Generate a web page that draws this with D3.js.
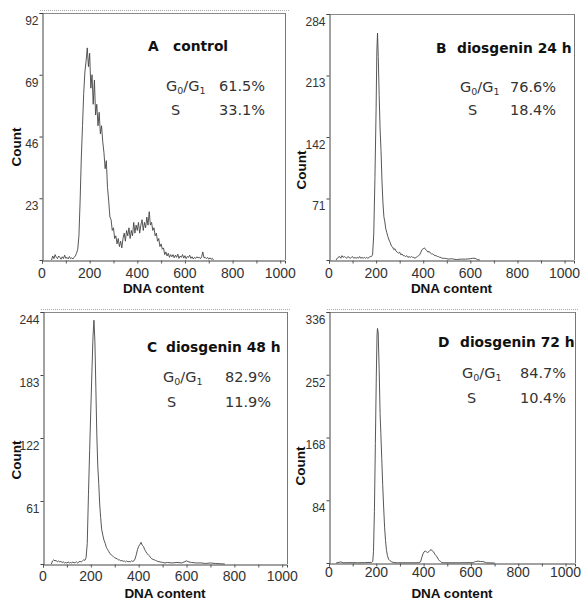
<!DOCTYPE html>
<html>
<head>
<meta charset="utf-8">
<script src="https://cdn.jsdelivr.net/npm/d3@7"></script>
<style>
  body { margin: 0; background: #fff; }
  .ylab text { font-family: "Liberation Sans", Arial, sans-serif; font-size: 12px; fill: #333; }
  .xnum { font-family: "Liberation Sans", Arial, sans-serif; font-size: 14px; fill: #333; }
  .axtitle { font-family: "Liberation Sans", Arial, sans-serif; font-size: 13.5px; font-weight: bold; fill: #111; }
  .ptitle { font-family: "DejaVu Sans", Verdana, sans-serif; font-size: 13.8px; font-weight: bold; fill: #111; }
  .stat { font-family: "DejaVu Sans", Verdana, sans-serif; font-size: 14.5px; fill: #333; }
</style>
</head>
<body>
<script>
var W = 582, H = 600;

// titles and cell cycle fractions
var letters = ["A", "B", "C", "D"];
var titles = ["control", "diosgenin 24 h", "diosgenin 48 h", "diosgenin 72 h"];
var g0g1 = ["61.5%", "76.6%", "82.9%", "84.7%"];
var sPhase = ["33.1%", "18.4%", "11.9%", "10.4%"];

// axis ticks
var xTicks = [0, 200, 400, 600, 800, 1000];
var yTicksA = [23, 46, 69, 92];
var yTicksB = [71, 142, 213, 284];
var yTicksC = [61, 122, 183, 244];
var yTicksD = [84, 168, 252, 336];

// A control: channels every 5 from 40
var chanA = d3.range(40, 765, 5);
var countA = [0, 1.5, 0.5, 2, 1, 0.5, 1.5, 1, 0.3, 1.2, 0.5, 1.8, 0.6, 1, 0.4, 1.3, 0.5, 0.8, 0.4, 1,
  1.5, 2.5, 4, 9, 22, 38, 50, 62, 70, 74, 79, 72, 77, 64, 69, 58, 67, 54, 58, 50,
  55, 47, 50, 44, 40, 34, 37, 27, 22, 16, 15, 11, 12, 8, 9, 6, 8, 5, 7, 4.5,
  8, 10, 7, 11, 9, 12, 8, 11, 9, 14, 10, 13, 11, 14, 10, 13, 15, 11, 14, 12,
  16, 13, 18, 13, 14, 11, 12, 9, 10, 7, 8, 5, 6, 4, 4.5, 2, 3, 1.5, 2.5, 1,
  2, 1.2, 2, 0.8, 1.8, 1, 2.2, 0.6, 1.5, 1, 2, 0.7, 1.6, 0.5, 1.3, 1, 1.8, 0.6, 1.2, 0.4,
  1, 0.6, 1.2, 0.8, 1, 0.5, 1.2, 3, 0.8, 1, 0.5, 1, 0.3, 0.8, 0.3, 0.6, 0];

// B diosgenin 24 h
var chanB = [30, 38, 45, 50, 55, 60, 65, 70, 75, 80, 85, 90, 95, 100, 105, 110, 115, 120, 125, 130,
  135, 140, 145, 150, 155, 160, 165, 170, 175, 180, 185, 190, 195, 200, 203, 206, 209, 213, 217, 221,
  225, 229, 233, 237, 241, 245, 250, 255, 260, 265, 270, 275, 280, 285, 290, 295, 300, 305, 310, 315,
  320, 325, 330, 335, 340, 345, 350, 355, 360, 365, 370, 375, 380, 385, 390, 395, 400, 405, 410, 415,
  420, 425, 430, 435, 440, 445, 450, 455, 460, 465, 470, 475, 480, 490, 500, 510, 520, 530, 540, 560,
  580, 600, 610, 620, 630, 640];
var countB = [0, 3, 4, 2, 5, 3, 4, 3, 2, 4, 3, 2, 3, 4, 2, 3, 2, 3, 2, 4,
  2, 3, 2, 3, 2, 3, 2, 3, 4, 4, 6, 30, 95, 175, 240, 262, 235, 190, 150, 125,
  90, 66, 50, 44, 36, 32, 27, 23, 20, 16, 15, 12, 13, 10, 9, 8, 9, 6, 7, 5,
  5, 4, 5, 3, 4, 3, 4, 3, 3, 2, 3, 4, 5, 6, 9, 12, 13, 14, 12, 11,
  9, 10, 8, 7, 7, 6, 5, 5, 4, 4, 3, 3, 2, 2, 1.5, 1, 1.5, 1, 0.5, 1,
  1, 1.5, 2, 2, 0.5, 0];

// C diosgenin 48 h
var chanC = [35, 40, 45, 50, 55, 60, 65, 70, 75, 80, 85, 90, 95, 100, 105, 110, 115, 120, 125, 130,
  135, 140, 145, 150, 155, 160, 165, 170, 175, 180, 185, 190, 195, 200, 205, 209, 213, 217, 221, 225,
  229, 233, 237, 241, 245, 250, 255, 260, 265, 270, 275, 280, 285, 290, 295, 300, 305, 310, 315, 320,
  325, 330, 335, 340, 345, 350, 355, 360, 365, 370, 375, 380, 385, 390, 395, 400, 405, 410, 415, 420,
  425, 430, 435, 440, 445, 450, 455, 460, 465, 470, 475, 480, 490, 500, 510, 520, 540, 560, 580, 600,
  610, 620, 640, 660, 680, 700, 720, 760];
var countC = [0, 3, 4, 3, 3.5, 2, 3, 2, 2.5, 1.5, 2, 1, 1.5, 1, 2, 1, 1.5, 1, 2, 1,
  1.5, 2, 1, 2, 2.5, 2, 3, 4, 3.5, 6, 20, 67, 110, 150, 190, 220, 236, 215, 170, 125,
  95, 78, 58, 45, 34, 28, 23, 20, 16, 14, 12, 10, 9, 8, 7, 6, 5.5, 5, 4, 4,
  3, 3.5, 2.5, 3, 2, 3, 2, 2.5, 2, 3, 2.5, 3, 5, 9, 14, 17, 19, 21, 18, 17,
  14, 12, 10, 9, 8, 6, 5, 4.5, 4, 3.5, 3, 2.5, 2, 1.5, 1, 1.5, 1, 1.5, 1, 3,
  2, 1.5, 1, 1, 0.5, 1, 0.5, 0];

// D diosgenin 72 h
var chanD = [30, 50, 60, 100, 120, 150, 180, 185, 188, 192, 196, 200, 203, 205, 208, 212, 216, 219, 223, 227,
  231, 235, 239, 243, 247, 252, 258, 265, 275, 290, 330, 360, 380, 387, 392, 397, 402, 407, 412, 417,
  422, 427, 432, 437, 442, 447, 452, 457, 462, 467, 472, 477, 490, 550, 610, 615, 620, 630, 640, 650,
  660, 665, 700];
var countD = [0, 1.5, 0.3, 0.5, 0.3, 0.5, 0.8, 2, 15, 69, 160, 250, 305, 314, 308, 260, 200, 175, 140, 105,
  75, 48, 30, 17, 10, 5, 3, 1.5, 0.5, 0.3, 0.3, 0.3, 0.5, 1.5, 7, 12, 15, 16, 15, 14,
  15, 17, 18, 16, 15, 12, 10, 8, 5, 3, 2, 0.5, 0.3, 0.3, 0.5, 1.5, 2, 2.5, 2, 2,
  1, 0.3, 0];

// layout of each panel (pixels)
var panels = [
  { left: 42, top: 13, right: 285, bottom: 260, xEnd: 1020, yMax: 92, yTicks: yTicksA, chan: chanA, count: countA,
    dotted: true, xLabY: 278, xTitY: 293, countX: 16, countY: 147,
    titleX: 148, wordX: 173, titleY: 51, gX: 166, valX: 219, sX: 171, gY: 91, sY: 115 },
  { left: 329, top: 14, right: 574, bottom: 260, xEnd: 1040, yMax: 284, yTicks: yTicksB, chan: chanB, count: countB,
    dotted: false, xLabY: 278, xTitY: 293, countX: 301, countY: 170,
    titleX: 436, wordX: 457, titleY: 53, gX: 460, valX: 510, sX: 468, gY: 92, sY: 115 },
  { left: 43, top: 312, right: 287, bottom: 564, xEnd: 1020, yMax: 244, yTicks: yTicksC, chan: chanC, count: countC,
    dotted: true, xLabY: 581, xTitY: 598, countX: 16, countY: 460,
    titleX: 147, wordX: 166, titleY: 352, gX: 163, valX: 225, sX: 167, gY: 382, sY: 407 },
  { left: 329, top: 312, right: 575, bottom: 563, xEnd: 1040, yMax: 336, yTicks: yTicksD, chan: chanD, count: countD,
    dotted: true, xLabY: 577, xTitY: 598, countX: 300, countY: 466,
    titleX: 438, wordX: 460, titleY: 347, gX: 462, valX: 520, sX: 467, gY: 378, sY: 403 }
];

var svg = d3.select("body").append("svg")
    .attr("width", W)
    .attr("height", H);

panels.forEach(function(p, i) {
    var x = d3.scaleLinear().domain([0, p.xEnd]).range([p.left, p.right]);
    var y = d3.scaleLinear().domain([0, p.yMax]).range([p.bottom, p.top]);
    var g = svg.append("g");

    // frame
    if (p.dotted) {
        g.append("line")
            .attr("x1", p.left - 2).attr("x2", p.right + 4)
            .attr("y1", p.top - 2.5).attr("y2", p.top - 2.5)
            .style("stroke", "#aaa").style("stroke-dasharray", "1,1");
    }
    g.append("line")
        .attr("x1", p.left).attr("x2", p.right)
        .attr("y1", p.top + 0.5).attr("y2", p.top + 0.5)
        .style("stroke", "#888");
    g.append("line")
        .attr("x1", p.right + 0.5).attr("x2", p.right + 0.5)
        .attr("y1", p.top).attr("y2", p.bottom)
        .style("stroke", "#777");

    // histogram
    var pts = p.chan.map(function(c, k) { return [c, p.count[k]]; });
    var line = d3.line()
        .x(function(d) { return x(d[0]); })
        .y(function(d) { return y(d[1]); });
    g.append("path")
        .datum(pts)
        .attr("d", line)
        .style("fill", "none")
        .style("stroke", "#444")
        .style("stroke-width", 0.9);

    // y axis
    var ya = g.append("g")
        .attr("class", "ylab")
        .attr("transform", "translate(" + (p.left + 0.5) + ",0)")
        .call(d3.axisLeft(y).tickValues(p.yTicks).tickSize(3).tickPadding(1));
    ya.select(".domain").style("stroke", "#444");
    ya.selectAll(".tick line").style("stroke", "#444");
    ya.selectAll(".tick text").attr("dy", "0.95em");

    // x axis, small ticks every 100
    var xa = g.append("g")
        .attr("transform", "translate(0," + (p.bottom + 0.5) + ")")
        .call(d3.axisBottom(x).tickValues(d3.range(0, 1001, 100)).tickSize(3).tickFormat(""));
    xa.select(".domain").style("stroke", "#444");
    xa.selectAll(".tick line").style("stroke", "#555");
    g.selectAll(".xnum")
        .data(xTicks)
        .enter().append("text")
        .attr("class", "xnum")
        .attr("x", function(d) { return x(d); })
        .attr("y", p.xLabY)
        .attr("text-anchor", "middle")
        .text(function(d) { return d; });

    // axis titles
    g.append("text")
        .attr("class", "axtitle")
        .attr("x", (p.left + p.right) / 2)
        .attr("y", p.xTitY)
        .attr("text-anchor", "middle")
        .text("DNA content");
    g.append("text")
        .attr("class", "axtitle")
        .attr("transform", "translate(" + p.countX + "," + p.countY + ") rotate(-90)")
        .attr("dy", "0.35em")
        .attr("text-anchor", "middle")
        .text("Count");

    // panel title
    g.append("text").attr("class", "ptitle")
        .attr("x", p.titleX).attr("y", p.titleY).text(letters[i]);
    g.append("text").attr("class", "ptitle")
        .attr("x", p.wordX).attr("y", p.titleY).text(titles[i]);

    // G0/G1 and S
    var gt = g.append("text").attr("class", "stat")
        .attr("x", p.gX).attr("y", p.gY);
    gt.append("tspan").text("G");
    gt.append("tspan").attr("dy", 3).style("font-size", "9.5px").text("0");
    gt.append("tspan").attr("dy", -3).text("/G");
    gt.append("tspan").attr("dy", 3).style("font-size", "9.5px").text("1");
    g.append("text").attr("class", "stat")
        .attr("x", p.valX).attr("y", p.gY).text(g0g1[i]);
    g.append("text").attr("class", "stat")
        .attr("x", p.sX).attr("y", p.sY).text("S");
    g.append("text").attr("class", "stat")
        .attr("x", p.valX).attr("y", p.sY).text(sPhase[i]);
});
</script>
</body>
</html>
